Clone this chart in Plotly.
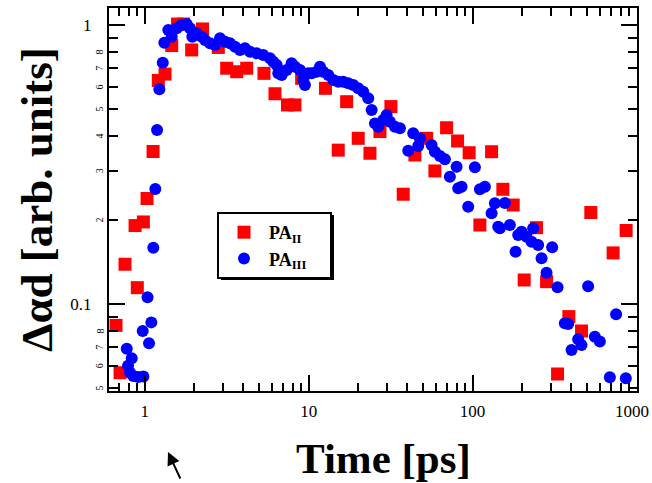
import math
import plotly.graph_objects as go

# ---- data ----
red_t = [0.668, 0.707, 0.758, 0.873, 0.901, 0.981, 1.033, 1.124, 1.210, 1.330, 1.461, 1.585, 1.724,
         1.934, 2.251, 2.811, 3.162, 3.639, 4.188, 5.339, 6.231, 7.426, 8.25, 9.06, 12.66, 15.15,
         17.05, 20.06, 23.65, 27.22, 31.76, 37.75, 44.48, 52.44, 58.9, 69.4, 81.0, 95.3, 110.8,
         130.6, 153.0, 176.9, 206.4, 245.6, 282.7, 329.9, 386.6, 462.0, 526.3, 720.0, 864.3]
red_v = [0.0838, 0.0567, 0.1388, 0.191, 0.1144, 0.1968, 0.2388, 0.352, 0.633, 0.667, 0.844, 1.008, 1.008,
         0.814, 0.968, 0.831, 0.700, 0.680, 0.700, 0.671, 0.567, 0.517, 0.517, 0.644, 0.593, 0.356,
         0.531, 0.3925, 0.347, 0.415, 0.510, 0.2474, 0.342, 0.3925, 0.2998, 0.4283, 0.3839, 0.3485, 0.1919,
         0.3514, 0.2577, 0.2263, 0.1219, 0.1877, 0.1202, 0.0561, 0.0901, 0.080, 0.2128, 0.1524, 0.1834]

blue_t = [0.777, 0.833, 0.791, 0.814, 0.852, 0.914, 0.981, 0.972, 1.040, 1.062, 1.097, 1.128, 1.160,
          1.189, 1.228, 1.288, 1.317, 1.393, 1.461, 1.567, 1.681, 1.803, 1.889, 1.951, 2.075, 2.226,
          2.332, 2.501, 2.684, 2.878, 3.087, 3.312, 3.553, 3.811, 4.088, 4.386, 4.82, 5.288, 5.808,
          6.083, 6.382, 6.526, 6.846, 7.342, 7.873, 8.252, 8.851, 9.27, 9.493, 9.944, 10.43, 11.19,
          11.72, 12.27, 13.17, 14.13, 15.15, 16.25, 17.44, 18.71, 20.06, 21.52, 23.09, 24.22, 25.37,
          26.58, 28.5, 29.9, 31.31, 33.6, 36.04, 40.5, 43.43, 46.6, 47.7, 56.2, 58.9, 63.2, 67.8,
          72.7, 79.9, 81.7, 85.7, 94.0, 103.3, 110.8, 118.9, 130.6, 136.8, 143.3, 146.7, 157.4,
          168.8, 182.9, 189.7, 199.0, 213.4, 228.9, 234.1, 251.2, 263.5, 282.6, 305.8, 329.9, 365.4,
          382.7, 401.5, 440.5, 462.0, 506.9, 556.9, 597.4, 687.6, 750.8, 860.6]
blue_v = [0.0691, 0.0639, 0.0600, 0.0567, 0.0552, 0.0547, 0.0549, 0.0800, 0.1057, 0.0723, 0.0859, 0.1591, 0.2584,
          0.4204, 0.588, 0.7327, 0.864, 0.9596, 0.908, 0.973, 1.0, 1.008, 0.973, 0.908, 0.934, 0.908,
          0.884, 0.86, 0.848, 0.896, 0.871, 0.86, 0.836, 0.814, 0.825, 0.802, 0.792, 0.781, 0.760,
          0.739, 0.719, 0.671, 0.662, 0.690, 0.729, 0.709, 0.690, 0.635, 0.610, 0.671, 0.671, 0.680,
          0.709, 0.680, 0.662, 0.635, 0.626, 0.626, 0.618, 0.610, 0.593, 0.577, 0.546, 0.496, 0.444,
          0.432, 0.4565, 0.4757, 0.450, 0.432, 0.4263, 0.3543, 0.409, 0.3683, 0.3925, 0.3715, 0.3514, 0.339, 0.330,
          0.286, 0.3105, 0.260, 0.2633, 0.2232, 0.309, 0.2577, 0.2633, 0.2114, 0.2296, 0.1893, 0.1867, 0.230,
          0.1919, 0.154, 0.1768, 0.1816, 0.1743, 0.1672, 0.1867, 0.1627, 0.1458, 0.1295, 0.1596, 0.1148, 0.0853,
          0.0848, 0.0684, 0.0747, 0.0713, 0.1157, 0.0763, 0.0733, 0.0546, 0.0919, 0.0542]

x_major = [1, 10, 100, 1000]
x_major_text = ["1", "10", "100", ""]
x_last_label = "1000"
x_minor = [0.7, 0.8, 0.9, 2, 3, 4, 5, 6, 7, 8, 9, 20, 30, 40, 50, 60, 70, 80, 90,
           200, 300, 400, 500, 600, 700, 800, 900]
y_major = [0.1, 1]
y_major_text = ["0.1", "1"]
y_minor = [0.05, 0.06, 0.07, 0.08, 0.09, 0.2, 0.3, 0.4, 0.5, 0.6, 0.7, 0.8, 0.9]
y_minor_text = ["5", "6", "7", "8", "", "2", "3", "4", "5", "6", "7", "8", ""]

x_title = "Time [ps]"
y_title = "Δαd [arb. units]"

SERIF = "Liberation Serif"

# plot-area geometry in pixels
L, R, T, B = 109, 637, 8, 391
PW, PH = R - L, B - T


def px(xp):
    return (xp - L) / PW


def py(yp):
    return 1 - (yp - T) / PH


NB = "\u00a0"
fig = go.Figure()
fig.add_trace(go.Scatter(x=red_t, y=red_v, mode="markers", name="PA<sub>II</sub>" + NB * 5,
                         marker=dict(symbol="square", size=13, color="#ff0000", line=dict(width=0))))
fig.add_trace(go.Scatter(x=blue_t, y=blue_v, mode="markers", name="PA<sub>III</sub>" + NB * 4,
                         marker=dict(symbol="circle", size=12, color="#0000ff", line=dict(width=0))))

annotations = []
for v, t in zip(y_minor, y_minor_text):
    if t:
        annotations.append(dict(x=px(107), y=math.log10(v), xref="paper", yref="y", text=t,
                                showarrow=False, textangle=-90, xanchor="right",
                                font=dict(family=SERIF, size=10, color="black")))
# last x tick label, kept inside the picture
annotations.append(dict(x=px(651), y=py(411), xref="paper", yref="paper", text=x_last_label,
                        showarrow=False, xanchor="right", yanchor="middle",
                        font=dict(family=SERIF, size=17, color="black")))
# x-axis title placed as annotation (centred under the data like the original)
annotations.append(dict(x=px(383), y=py(458), xref="paper", yref="paper", text=x_title,
                        showarrow=False, xanchor="center", yanchor="middle",
                        font=dict(family=SERIF, size=43, color="black", weight="bold")))
# arrow below plot
annotations.append(dict(x=px(168), y=py(452), xref="paper", yref="paper",
                        text="", showarrow=True, ax=13, ay=28, arrowhead=2, arrowsize=1.3,
                        arrowwidth=2, arrowcolor="black"))

fig.update_layout(
    width=652, height=483,
    margin=dict(l=L, r=652 - R, t=T, b=483 - B, autoexpand=False),
    paper_bgcolor="white", plot_bgcolor="white",
    font=dict(family=SERIF, color="black"),
    showlegend=True,
    legend=dict(x=px(217), y=py(212), xanchor="left", yanchor="top",
                bgcolor="white", bordercolor="black", borderwidth=2,
                font=dict(family=SERIF, size=18, color="black", weight="bold"),
                itemwidth=40, tracegroupgap=0),
    xaxis=dict(type="log", range=[-0.218, 3.003], automargin=False,
               tickmode="array", tickvals=x_major, ticktext=x_major_text,
               ticks="inside", ticklen=16, tickwidth=2, tickcolor="black",
               minor=dict(tickvals=x_minor, ticks="inside", ticklen=8, tickwidth=2, tickcolor="black"),
               showline=True, linecolor="black", linewidth=2, mirror="allticks",
               showgrid=False, zeroline=False,
               tickfont=dict(family=SERIF, size=17, color="black"),
               ticklabelstandoff=4, ticklabeloverflow="allow"),
    yaxis=dict(type="log", range=[-1.312, 0.061], automargin=False,
               tickmode="array", tickvals=y_major, ticktext=y_major_text,
               ticks="inside", ticklen=16, tickwidth=2, tickcolor="black",
               minor=dict(tickvals=y_minor, ticks="inside", ticklen=9, tickwidth=2, tickcolor="black"),
               showline=True, linecolor="black", linewidth=2, mirror="allticks",
               showgrid=False, zeroline=False,
               tickfont=dict(family=SERIF, size=17, color="black"),
               ticklabelstandoff=12, ticklabeloverflow="allow",
               title=dict(text=y_title, font=dict(family=SERIF, size=45, color="black", weight="bold"),
                          standoff=4)),
    annotations=annotations,
    shapes=[dict(type="rect", xref="paper", yref="paper",
                 x0=px(221), x1=px(334), y0=py(280), y1=py(215),
                 fillcolor="black", line=dict(width=0), layer="below")],
)

fig.write_html("out.html", config={"displayModeBar": False},
               post_script="document.body.style.margin='0px';")
